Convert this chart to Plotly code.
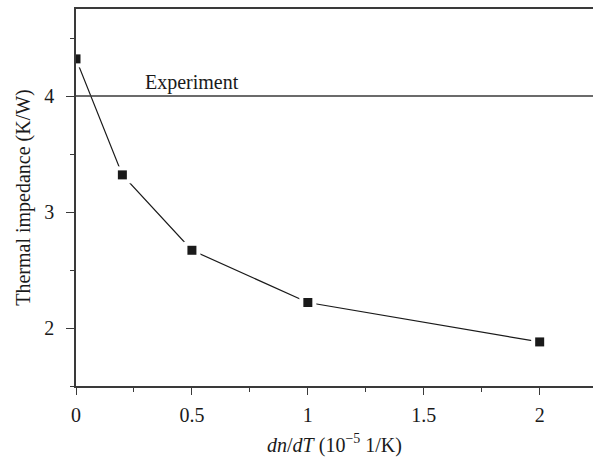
import plotly.graph_objects as go

dn_dT = [0, 0.2, 0.5, 1.0, 2.0]
impedance = [4.32, 3.32, 2.67, 2.22, 1.88]
experiment_value = 4.0
x_ticks = [0, 0.5, 1, 1.5, 2]
x_tick_labels = ["0", "0.5", "1", "1.5", "2"]
y_ticks = [2, 3, 4]
y_tick_labels = ["2", "3", "4"]

FONT = "Liberation Serif, Times New Roman, serif"
AX = "#3a3a3a"

fig = go.Figure()
fig.add_trace(go.Scatter(x=dn_dT, y=impedance, mode="lines",
                         line=dict(color="#1a1a1a", width=1.2), showlegend=False))
fig.add_trace(go.Scatter(x=dn_dT, y=impedance, mode="markers",
                         marker=dict(symbol="square", size=17, color="white"),
                         showlegend=False))
fig.add_trace(go.Scatter(x=dn_dT, y=impedance, mode="markers",
                         marker=dict(symbol="square", size=9, color="#1a1a1a"),
                         showlegend=False))

fig.add_shape(type="line", xref="paper", x0=0, x1=1, yref="y",
              y0=experiment_value, y1=experiment_value,
              line=dict(color=AX, width=1.6))
fig.add_annotation(x=0.29, y=experiment_value, xref="x", yref="y",
                   text="Experiment", showarrow=False,
                   xanchor="left", yanchor="bottom", yshift=0,
                   font=dict(family=FONT, size=20, color="#1a1a1a"))

fig.update_layout(
    width=593, height=458,
    margin=dict(l=76, r=0, t=9, b=72),
    plot_bgcolor="white", paper_bgcolor="white",
    font=dict(family=FONT, size=20, color="#1a1a1a"),
    xaxis=dict(range=[0, 2.23], tickvals=x_ticks, ticktext=x_tick_labels,
               showline=True, linecolor=AX, linewidth=1.6, mirror=True,
               ticks="outside", ticklen=7, tickwidth=1.3, tickcolor=AX,
               minor=dict(dtick=0.25, tick0=0, ticks="outside", ticklen=4,
                          tickwidth=1.2, tickcolor=AX, showgrid=False),
               showgrid=False, zeroline=False, ticklabelstandoff=3,
               tickfont=dict(size=20),
               title=dict(text="<i>dn</i>/<i>dT</i> (10<sup>−5</sup> 1/K)",
                          font=dict(size=20), standoff=13)),
    yaxis=dict(range=[1.5, 4.75], tickvals=y_ticks, ticktext=y_tick_labels,
               showline=True, linecolor=AX, linewidth=1.6,
               ticks="outside", ticklen=8, tickwidth=1.3, tickcolor=AX,
               minor=dict(dtick=0.5, tick0=0, ticks="outside", ticklen=4,
                          tickwidth=1.2, tickcolor=AX, showgrid=False),
               showgrid=False, zeroline=False, ticklabelstandoff=8,
               tickfont=dict(size=20),
               title=dict(text="Thermal impedance (K/W)",
                          font=dict(size=20), standoff=8)),
)

fig.write_html("out.html", config={"displayModeBar": False},
               post_script="document.body.style.margin='0';document.body.style.overflow='hidden';")
